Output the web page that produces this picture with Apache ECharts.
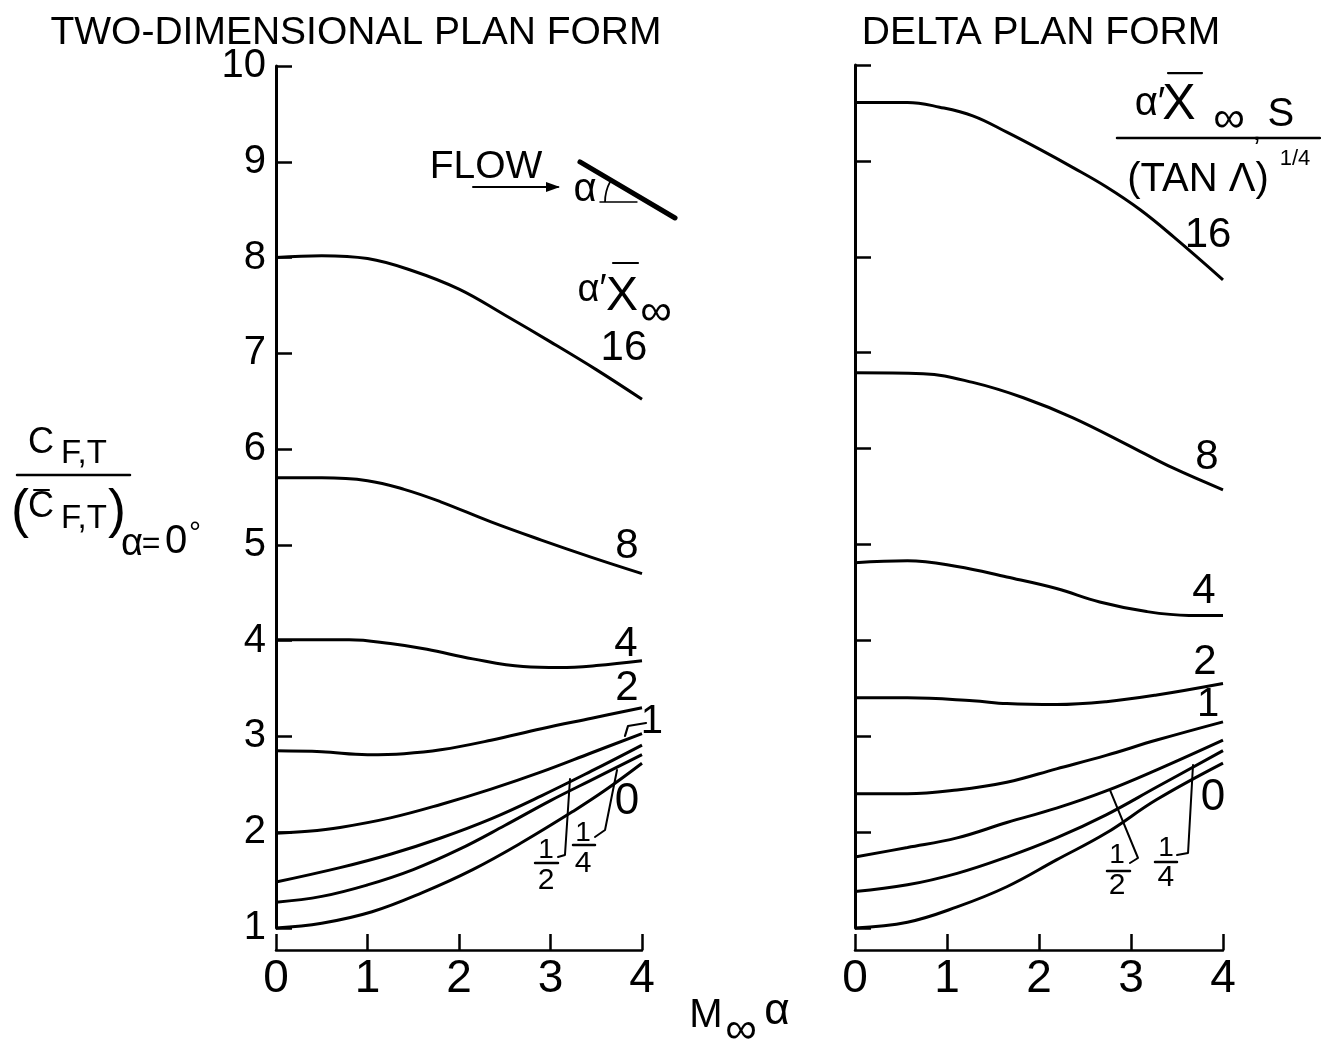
<!DOCTYPE html>
<html>
<head>
<meta charset="utf-8">
<script src="https://cdn.jsdelivr.net/npm/echarts@6/dist/echarts.min.js"></script>
<style>
  html, body { margin: 0; padding: 0; background: #fff; }
  #chart { width: 1321px; height: 1045px; }
</style>
</head>
<body>
<div id="chart"></div>
<script>
// Thrust force coefficient ratio vs. M∞α for several viscous interaction parameters.
const FONT = '"Liberation Sans", Arial, sans-serif';

const xTickValues = [0, 1, 2, 3, 4];
const yTickValues = [1, 2, 3, 4, 5, 6, 7, 8, 9, 10];

// Two-dimensional plan form, curves labelled by a'X∞
const twoD_16 = [[0, 8.00], [0.5, 8.02], [1.0, 7.99], [1.5, 7.86], [2.0, 7.67], [2.5, 7.40], [3.0, 7.12], [3.5, 6.83], [4.0, 6.52]];
const twoD_8 = [[0, 5.70], [0.5, 5.70], [1.0, 5.67], [1.4, 5.58], [1.8, 5.45], [2.35, 5.24], [2.9, 5.05], [3.45, 4.87], [4.0, 4.70]];
const twoD_4 = [[0, 4.01], [0.8, 4.01], [1.25, 3.97], [1.65, 3.91], [2.15, 3.81], [2.7, 3.73], [3.1, 3.72], [3.5, 3.74], [4.0, 3.79]];
const twoD_2 = [[0, 2.85], [0.5, 2.84], [1.0, 2.81], [1.4, 2.82], [1.8, 2.86], [2.35, 2.96], [2.9, 3.08], [3.45, 3.19], [4.0, 3.30]];
const twoD_1 = [[0, 1.99], [0.35, 2.01], [0.7, 2.05], [1.25, 2.15], [1.8, 2.29], [2.35, 2.45], [2.9, 2.63], [3.45, 2.83], [4.0, 3.03]];
const twoD_half = [[0, 1.48], [0.7, 1.63], [1.25, 1.77], [1.8, 1.94], [2.35, 2.14], [2.9, 2.38], [3.45, 2.64], [4.0, 2.91]];
const twoD_quarter = [[0, 1.27], [0.5, 1.33], [1.0, 1.45], [1.5, 1.61], [2.0, 1.82], [2.5, 2.07], [3.0, 2.33], [3.5, 2.57], [4.0, 2.81]];
const twoD_0 = [[0, 1.00], [0.5, 1.05], [1.05, 1.17], [1.6, 1.37], [2.15, 1.61], [2.7, 1.90], [3.25, 2.22], [3.6, 2.44], [4.0, 2.72]];

// Delta plan form, curves labelled by a'X∞,s / (tan Λ)^1/4
const delta_16 = [[0, 9.61], [0.57, 9.61], [0.92, 9.56], [1.28, 9.47], [1.65, 9.30], [2.01, 9.12], [2.37, 8.93], [2.73, 8.73], [3.10, 8.49], [3.46, 8.21], [4.0, 7.76]];
const delta_8 = [[0, 6.79], [0.74, 6.78], [1.28, 6.69], [1.83, 6.53], [2.37, 6.32], [3.02, 6.01], [3.45, 5.80], [4.0, 5.57]];
const delta_4 = [[0, 4.81], [0.57, 4.83], [1.11, 4.77], [1.65, 4.66], [2.19, 4.54], [2.66, 4.40], [3.17, 4.30], [3.63, 4.26], [4.0, 4.26]];
const delta_2 = [[0, 3.40], [0.57, 3.40], [1.28, 3.37], [1.65, 3.34], [2.19, 3.33], [2.73, 3.36], [3.28, 3.43], [4.0, 3.55]];
const delta_1 = [[0, 2.40], [0.57, 2.40], [1.11, 2.44], [1.65, 2.52], [2.19, 2.66], [2.73, 2.80], [3.28, 2.96], [4.0, 3.15]];
const delta_half = [[0, 1.74], [0.57, 1.84], [1.11, 1.94], [1.65, 2.10], [2.19, 2.25], [2.73, 2.43], [3.28, 2.65], [4.0, 2.96]];
const delta_quarter = [[0, 1.38], [0.57, 1.45], [1.11, 1.57], [1.65, 1.74], [2.19, 1.94], [2.73, 2.18], [3.28, 2.47], [4.0, 2.85]];
const delta_0 = [[0, 1.00], [0.57, 1.06], [1.11, 1.22], [1.65, 1.43], [2.19, 1.71], [2.73, 1.99], [3.28, 2.34], [4.0, 2.72]];

const chart = echarts.init(document.getElementById('chart'), null, { renderer: 'canvas' });

function xAxisFor(g) {
  return {
    gridIndex: g, type: 'value', min: xTickValues[0], max: xTickValues[xTickValues.length - 1], interval: 1,
    position: 'bottom', offset: 22,
    axisLine: { show: true, onZero: false, lineStyle: { color: '#000', width: 2.5 } },
    axisTick: { show: true, inside: true, length: 16, lineStyle: { color: '#000', width: 2.5 } },
    axisLabel: { show: true, color: '#000', fontSize: 46, fontFamily: FONT, margin: 6, formatter: v => String(v) },
    splitLine: { show: false }
  };
}
function yAxisFor(g, labels) {
  return {
    gridIndex: g, type: 'value', min: yTickValues[0], max: yTickValues[yTickValues.length - 1], interval: 1,
    axisLine: { show: true, lineStyle: { color: '#000', width: 3 } },
    axisTick: { show: true, inside: true, length: 16, lineStyle: { color: '#000', width: 2.5 } },
    axisLabel: { show: labels, color: '#000', fontSize: 40, fontFamily: FONT, margin: 10, formatter: v => String(v) },
    splitLine: { show: false }
  };
}
function curve(name, data, g) {
  return {
    name, type: 'line', xAxisIndex: g, yAxisIndex: g, data,
    smooth: 0.4, showSymbol: false, symbol: 'none',
    lineStyle: { color: '#000', width: 3 }, silent: true
  };
}

chart.setOption({
  animation: false,
  backgroundColor: '#fff',
  grid: [
    { left: 276, top: 66, width: 366, height: 862 },
    { left: 855, top: 65, width: 368, height: 863 }
  ],
  xAxis: [xAxisFor(0), xAxisFor(1)],
  yAxis: [yAxisFor(0, true), yAxisFor(1, false)],
  series: [
    curve('16', twoD_16, 0), curve('8', twoD_8, 0), curve('4', twoD_4, 0), curve('2', twoD_2, 0),
    curve('1', twoD_1, 0), curve('1/2', twoD_half, 0), curve('1/4', twoD_quarter, 0), curve('0', twoD_0, 0),
    curve('16', delta_16, 1), curve('8', delta_8, 1), curve('4', delta_4, 1), curve('2', delta_2, 1),
    curve('1', delta_1, 1), curve('1/2', delta_half, 1), curve('1/4', delta_quarter, 1), curve('0', delta_0, 1)
  ]
});

// ---- annotations, placed in data coordinates of each panel ----
function P(g, x, y) { return chart.convertToPixel({ gridIndex: g }, [x, y]); }
function textAt(x, y, s, size, opts) {
  opts = opts || {};
  return {
    type: 'text', x, y, z: 100,
    style: {
      text: s, font: (opts.style || 'normal') + ' ' + size + 'px ' + FONT, fill: '#000',
      align: opts.align || 'center', verticalAlign: 'middle',
      textAlign: opts.align || 'center', textVerticalAlign: 'middle'
    }
  };
}
function dText(g, x, y, s, size, opts) { const p = P(g, x, y); return textAt(p[0], p[1], s, size, opts); }
function line(points, w) {
  return { type: 'polyline', z: 100, shape: { points }, style: { stroke: '#000', lineWidth: w || 2.5, fill: null, lineCap: 'round', lineJoin: 'round' } };
}
function dLine(g, pts, w) { return line(pts.map(q => P(g, q[0], q[1])), w); }
function fraction(g, x, yNum, yBar, yDen, x0, x1, num, den) {
  return [dText(g, x, yNum, num, 28), dLine(g, [[x0, yBar], [x1, yBar]], 2.5), dText(g, x, yDen, den, 30)];
}

const els = [];

// panel titles
els.push(textAt(356, 33, 'TWO-DIMENSIONAL PLAN FORM', 39));
els.push(textAt(1041, 33, 'DELTA PLAN FORM', 39));

// left panel: flow sketch
els.push(dText(0, 2.295, 8.945, 'FLOW', 39));
els.push(dLine(0, [[2.153, 8.737], [3.082, 8.737]], 2));
{
  const e = P(0, 3.082, 8.737);
  els.push({ type: 'polygon', z: 100, shape: { points: [[e[0] + 2, e[1]], [e[0] - 12, e[1] - 5], [e[0] - 12, e[1] + 5]] }, style: { fill: '#000' } });
}
els.push(dText(0, 3.377, 8.705, 'α', 40));
els.push(dLine(0, [[3.322, 8.998], [4.361, 8.413]], 5));
els.push(dLine(0, [[3.541, 8.580], [3.945, 8.580]], 1.5));
{
  const c = P(0, 4.066, 8.580);
  els.push({ type: 'arc', z: 100, shape: { cx: c[0], cy: c[1], r: 43, startAngle: Math.PI, endAngle: Math.PI + 0.5, clockwise: true }, style: { stroke: '#000', lineWidth: 1.8, fill: null } });
}

// left panel: parameter heading and curve labels
els.push(dText(0, 3.454, 7.661, 'α′', 38));
els.push(dText(0, 3.781, 7.588, 'X', 48));
els.push(dLine(0, [[3.683, 7.943], [3.956, 7.943]], 2.2));
els.push(dText(0, 4.153, 7.421, '∞', 44));
els.push(dText(0, 3.803, 7.056, '16', 42));
els.push(dText(0, 3.836, 4.988, '8', 42));
els.push(dText(0, 3.825, 3.965, '4', 42));
els.push(dText(0, 3.836, 3.506, '2', 42));
els.push(dText(0, 4.109, 3.151, '1', 40));
els.push(dLine(0, [[3.814, 3.005], [3.847, 3.109], [4.044, 3.140]], 2.2));
els.push(dText(0, 3.836, 2.316, '0', 44));
els.push(...fraction(0, 2.951, 1.814, 1.679, 1.491, 2.831, 3.082, '1', '2'));
els.push(dLine(0, [[3.213, 2.556], [3.158, 1.762], [3.082, 1.741]], 2));
els.push(...fraction(0, 3.355, 1.992, 1.867, 1.668, 3.246, 3.486, '1', '4'));
els.push(dLine(0, [[3.727, 2.650], [3.596, 2.023], [3.486, 1.950]], 2));

// right panel: parameter heading and curve labels
els.push(dText(1, 3.207, 9.593, 'α′', 40));
els.push(dText(1, 3.522, 9.583, 'X', 50));
els.push(dLine(1, [[3.402, 9.916], [3.772, 9.916]], 2.2));
els.push(dText(1, 4.065, 9.426, '∞', 44));
els.push(dText(1, 4.370, 9.30, ',', 30));
els.push(dText(1, 4.630, 9.478, 'S', 40));
els.push(dLine(1, [[2.848, 9.239], [5.054, 9.239]], 2.5));
els.push(dText(1, 3.728, 8.801, '(TAN Λ)', 40));
els.push(dText(1, 4.783, 9.020, '1/4', 22));
els.push(dText(1, 3.837, 8.227, '16', 42));
els.push(dText(1, 3.826, 5.912, '8', 42));
els.push(dText(1, 3.793, 4.514, '4', 42));
els.push(dText(1, 3.804, 3.774, '2', 42));
els.push(dText(1, 3.837, 3.326, '1', 40));
els.push(dText(1, 3.891, 2.356, '0', 44));
els.push(...fraction(1, 2.848, 1.761, 1.594, 1.438, 2.739, 2.989, '1', '2'));
els.push(dLine(1, [[2.772, 2.439], [3.076, 1.730], [2.989, 1.678]], 2));
els.push(...fraction(1, 3.380, 1.834, 1.688, 1.521, 3.261, 3.500, '1', '4'));
els.push(dLine(1, [[3.674, 2.700], [3.620, 1.782], [3.500, 1.761]], 2));

// vertical axis title: C_F,T / (C̄_F,T)_α=0°
els.push(textAt(41, 443, 'C', 36));
els.push(textAt(84, 454, 'F,T', 33));
els.push(line([[17, 475], [130, 475]], 2.5));
els.push(textAt(20, 512, '(', 54));
els.push(textAt(41, 507, 'C', 36));
els.push(line([[34, 490], [49, 490]], 2));
els.push(textAt(84, 519, 'F,T', 33));
els.push(textAt(117, 512, ')', 54));
els.push(textAt(132, 545, 'α', 38));
els.push(textAt(151, 544, '=', 32));
els.push(textAt(176, 542, '0', 40));
els.push(textAt(195, 534, '°', 30));

// horizontal axis title: M∞α
els.push(textAt(706, 1016, 'M', 40));
els.push(textAt(741, 1031, '∞', 44));
els.push(textAt(777, 1012, 'α', 44));

chart.setOption({ graphic: { elements: els } });
</script>
</body>
</html>
